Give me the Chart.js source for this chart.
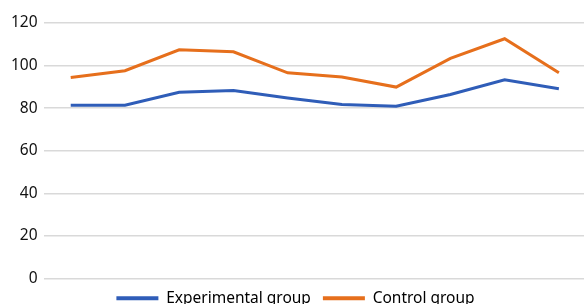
<!DOCTYPE html>
<html>
<head>
<meta charset="utf-8">
<script src="https://cdn.jsdelivr.net/npm/chart.js" type="text/javascript"></script>
<style>
  html, body { margin: 0; padding: 0; background: #ffffff; overflow: hidden; }
  #wrap { position: relative; width: 590px; height: 316px; }
</style>
</head>
<body>
<div id="wrap"><canvas id="chart"></canvas></div>
<script>
// categories (no visible x labels in the reference)
const categories = ["1", "2", "3", "4", "5", "6", "7", "8", "9", "10"];

// series values
const experimentalValues = [81.4, 81.4, 87.5, 88.3, 84.8, 81.7, 80.9, 86.4, 93.3, 89.1];
const controlValues = [94.4, 97.6, 107.4, 106.5, 96.6, 94.6, 89.9, 103.4, 112.6, 96.6];

const seriesNames = ["Experimental group", "Control group"];

// y axis
const yMin = 0;
const yMax = 120;
const yStep = 20;

const blue = "#2f5db8";
const orange = "#e66f1c";

new Chart(document.getElementById("chart").getContext("2d"), {
  type: "line",
  data: {
    labels: categories,
    datasets: [
      {
        label: seriesNames[0],
        data: experimentalValues,
        borderColor: blue,
        backgroundColor: blue,
        borderWidth: 3,
        pointRadius: 0,
        tension: 0,
        fill: false,
      },
      {
        label: seriesNames[1],
        data: controlValues,
        borderColor: orange,
        backgroundColor: orange,
        borderWidth: 3,
        pointRadius: 0,
        tension: 0,
        fill: false,
      },
    ],
  },
  options: {
    responsive: true,
    maintainAspectRatio: false,
    animation: false,
    layout: { padding: { top: 23, right: 4, left: 5, bottom: 0 } },
    plugins: {
      tooltip: { enabled: false },
      legend: {
        position: "bottom",
        labels: {
          color: "#111111",
          font: { family: "'Noto Sans', sans-serif", size: 15.5 },
          boxWidth: 42,
          boxHeight: 4,
          padding: 12,
          generateLabels(chart) {
            return chart.data.datasets.map((ds, i) => ({
              text: ds.label,
              fillStyle: ds.borderColor,
              strokeStyle: ds.borderColor,
              lineWidth: 0,
              datasetIndex: i,
            }));
          },
        },
      },
    },
    scales: {
      x: {
        offset: true,
        grid: { display: false, drawTicks: false },
        border: { display: false },
        ticks: { display: false },
      },
      y: {
        min: yMin,
        max: yMax,
        ticks: {
          stepSize: yStep,
          color: "#111111",
          padding: 6,
          font: { family: "'Noto Sans', sans-serif", size: 15.5 },
        },
        grid: { color: "#d9d9d9", lineWidth: 1.5, drawTicks: false },
        border: { display: false },
      },
    },
  },
});
</script>
</body>
</html>
